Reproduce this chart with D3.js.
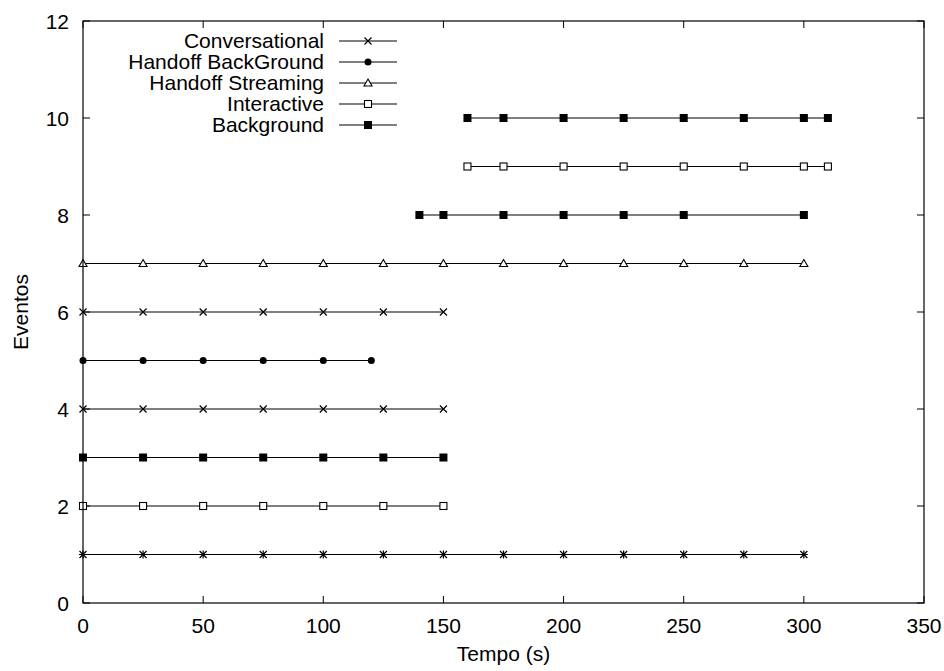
<!DOCTYPE html>
<html>
<head>
<meta charset="utf-8">
<script src="https://cdn.jsdelivr.net/npm/d3@7"></script>
<style>
body{margin:0;background:#fff;}
text{font-family:"Liberation Sans",Arial,sans-serif;fill:#000;}
</style>
</head>
<body>
<svg width="944" height="671"></svg>
<script>
const svg=d3.select('svg');
const margin={top:21,right:20,bottom:68,left:83};
const width=944, height=671;
const fs=21;

// data
const xTicks=[0,50,100,150,200,250,300,350];
const yTicks=[0,2,4,6,8,10,12];
const legendNames=['Conversational','Handoff BackGround','Handoff Streaming','Interactive','Background'];
const legendMarks=['cross','dot','triangle','openSquare','square'];

const starX=[0,25,50,75,100,125,150,175,200,225,250,275,300];           // y=1
const interactiveX1=[0,25,50,75,100,125,150];                           // y=2
const backgroundX1=[0,25,50,75,100,125,150];                            // y=3
const conversationalX1=[0,25,50,75,100,125,150];                        // y=4
const handoffBgX=[0,25,50,75,100,120];                                  // y=5
const conversationalX2=[0,25,50,75,100,125,150];                        // y=6
const streamingX=[0,25,50,75,100,125,150,175,200,225,250,275,300];      // y=7
const backgroundX2=[140,150,175,200,225,250,300];                       // y=8
const interactiveX2=[160,175,200,225,250,275,300,310];                  // y=9
const backgroundX3=[160,175,200,225,250,275,300,310];                   // y=10

const series=[
  {x:starX,y:1,mark:'star'},
  {x:interactiveX1,y:2,mark:'openSquare'},
  {x:backgroundX1,y:3,mark:'square'},
  {x:conversationalX1,y:4,mark:'cross'},
  {x:handoffBgX,y:5,mark:'dot'},
  {x:conversationalX2,y:6,mark:'cross'},
  {x:streamingX,y:7,mark:'triangle'},
  {x:backgroundX2,y:8,mark:'square'},
  {x:interactiveX2,y:9,mark:'openSquare'},
  {x:backgroundX3,y:10,mark:'square'}
];

const xScale=d3.scaleLinear().domain([0,350]).range([margin.left,width-margin.right]);
const yScale=d3.scaleLinear().domain([0,12]).range([height-margin.bottom,margin.top]);
const x0=xScale(0), x1=xScale(350), y0=yScale(0), y1=yScale(12);

function drawMark(g,type,cx,cy){
  if(type==='cross'||type==='star'){
    g.append('path').attr('d',`M${cx-3.5},${cy-3.5}L${cx+3.5},${cy+3.5}M${cx-3.5},${cy+3.5}L${cx+3.5},${cy-3.5}`)
      .attr('stroke','#000').attr('stroke-width',1.2);
    if(type==='star') g.append('path').attr('d',`M${cx-4},${cy}L${cx+4},${cy}M${cx},${cy-4}L${cx},${cy+4}`)
      .attr('stroke','#000').attr('stroke-width',1.2);
  } else if(type==='dot'){
    g.append('circle').attr('cx',cx).attr('cy',cy).attr('r',3.5).attr('fill','#000');
  } else if(type==='triangle'){
    g.append('path').attr('d',`M${cx},${cy-4}L${cx+4},${cy+3}L${cx-4},${cy+3}Z`)
      .attr('fill','#fff').attr('stroke','#000').attr('stroke-width',1.1);
  } else if(type==='openSquare'){
    g.append('rect').attr('x',cx-3.5).attr('y',cy-3.5).attr('width',7).attr('height',7)
      .attr('fill','#fff').attr('stroke','#000').attr('stroke-width',1.1);
  } else if(type==='square'){
    g.append('rect').attr('x',cx-4).attr('y',cy-4).attr('width',8).attr('height',8).attr('fill','#000');
  }
}

// ticks on all four sides
const tl=7;
const ax=svg.append('g').attr('stroke','#000').attr('stroke-width',1);
xTicks.forEach(t=>{
  const x=xScale(t);
  ax.append('line').attr('x1',x).attr('x2',x).attr('y1',y0).attr('y2',y0-tl);
  ax.append('line').attr('x1',x).attr('x2',x).attr('y1',y1).attr('y2',y1+tl);
  svg.append('text').attr('x',x).attr('y',y0+30).attr('text-anchor','middle')
    .attr('font-size',fs).text(t);
});
yTicks.forEach(t=>{
  const y=yScale(t);
  ax.append('line').attr('x1',x0).attr('x2',x0+tl).attr('y1',y).attr('y2',y);
  ax.append('line').attr('x1',x1).attr('x2',x1-tl).attr('y1',y).attr('y2',y);
  svg.append('text').attr('x',x0-14).attr('y',y+8).attr('text-anchor','end')
    .attr('font-size',fs).text(t);
});

// series
series.forEach(s=>{
  const g=svg.append('g');
  g.append('path').datum(s.x)
    .attr('d',d3.line().x(d=>xScale(d)).y(()=>yScale(s.y)))
    .attr('fill','none').attr('stroke','#000').attr('stroke-width',1.2);
  s.x.forEach(v=>drawMark(g,s.mark,xScale(v),yScale(s.y)));
});

// frame
svg.append('rect').attr('x',x0).attr('y',y1).attr('width',x1-x0).attr('height',y0-y1)
  .attr('fill','none').attr('stroke','#000').attr('stroke-width',1.2);

// legend
const lg=svg.append('g');
legendNames.forEach((n,i)=>{
  const y=41+i*21;
  lg.append('text').attr('x',324).attr('y',y+7).attr('text-anchor','end').attr('font-size',fs).text(n);
  lg.append('line').attr('x1',339).attr('x2',397).attr('y1',y).attr('y2',y)
    .attr('stroke','#000').attr('stroke-width',1.2);
  drawMark(lg,legendMarks[i],368,y);
});

// axis titles
svg.append('text').attr('x',(x0+x1)/2).attr('y',661).attr('text-anchor','middle')
  .attr('font-size',fs).text('Tempo (s)');
svg.append('text').attr('transform',`translate(28,${(y0+y1)/2})rotate(-90)`)
  .attr('text-anchor','middle').attr('font-size',fs).text('Eventos');
</script>
</body>
</html>
